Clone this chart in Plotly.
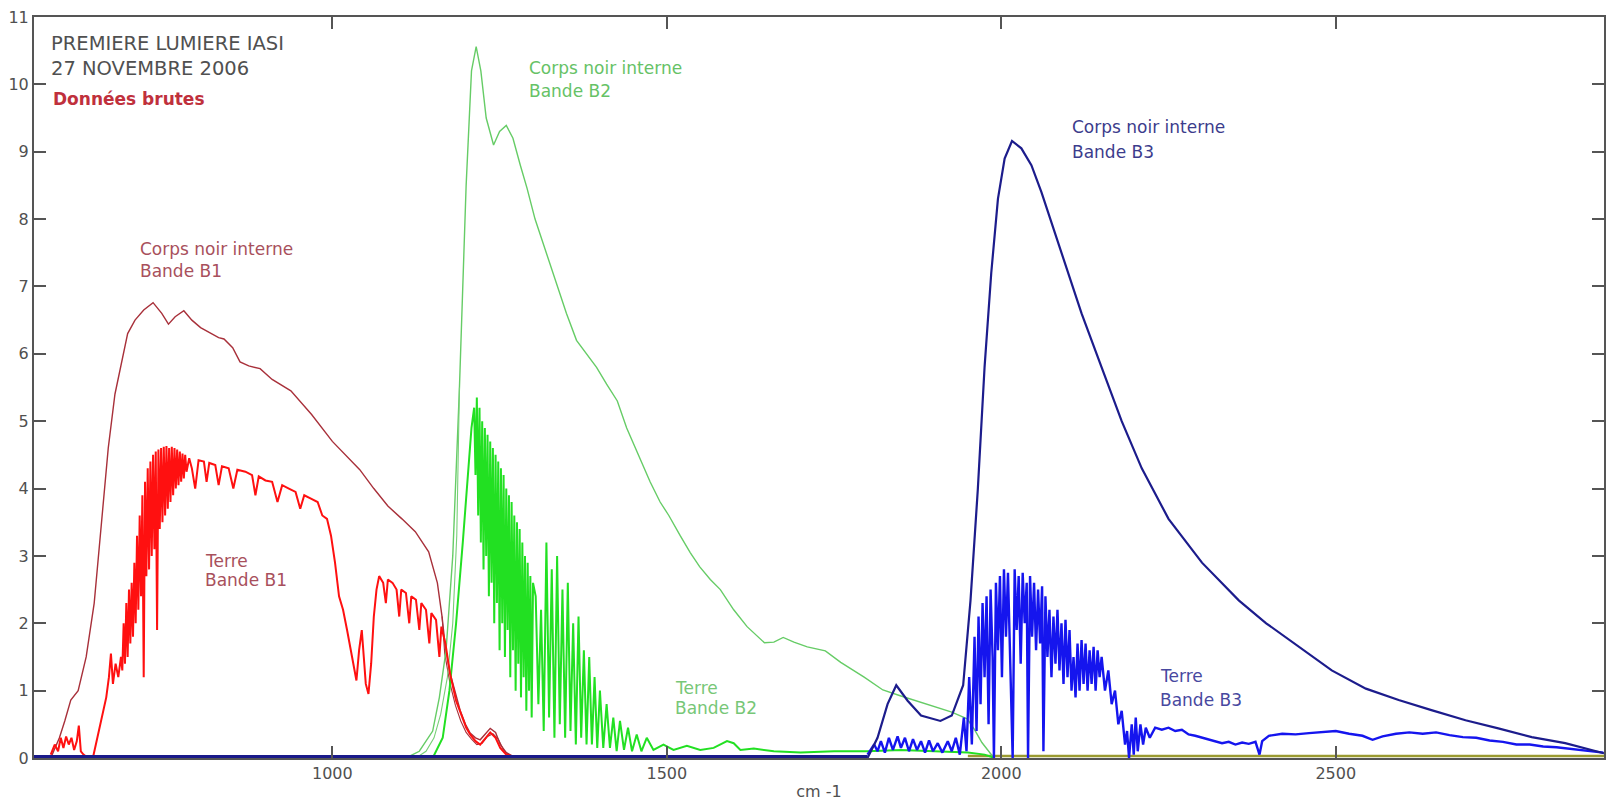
import plotly.graph_objects as go

# ---------------- data ----------------
# Corps noir interne, bande B1 (dark red, thin)
cn_b1_x = [579, 592, 600, 609, 620, 632, 644, 655, 665, 675, 685, 694, 705, 718, 732, 745, 755, 765, 778, 790,
           803, 818, 830, 838, 851, 862, 875, 892, 910, 938, 969, 1000, 1020, 1041, 1062, 1083, 1104, 1124, 1144,
           1157, 1164, 1169, 1176, 1184, 1191, 1199, 1206, 1214, 1221, 1228, 1236, 1244, 1251, 1260, 1275]
cn_b1_y = [0.0, 0.3, 0.55, 0.86, 1.0, 1.5, 2.3, 3.5, 4.6, 5.4, 5.9, 6.3, 6.5, 6.65, 6.76, 6.6, 6.44, 6.55, 6.64, 6.5,
           6.39, 6.3, 6.24, 6.22, 6.09, 5.88, 5.82, 5.78, 5.62, 5.45, 5.1, 4.7, 4.5, 4.28, 4.0, 3.74, 3.55, 3.36, 3.06,
           2.6, 2.1, 1.64, 1.26, 0.95, 0.71, 0.5, 0.37, 0.3, 0.27, 0.35, 0.44, 0.38, 0.2, 0.08, 0.0]
# second (parallel) black-body B1 trace visible on the falling edge
cn_b1b_x = [1164, 1168, 1176, 1184, 1192, 1200, 1208, 1216, 1224, 1232, 1240, 1248, 1256, 1266]
cn_b1b_y = [2.1, 1.55, 1.1, 0.78, 0.55, 0.38, 0.28, 0.2, 0.22, 0.32, 0.36, 0.28, 0.12, 0.02]

# Terre, bande B1 (bright red, noisy)
t_b1_x = [579, 585, 590, 594, 598, 602, 606, 610, 614, 618, 621, 624, 628, 635, 642, 650, 656, 662, 666, 669,
          672, 676, 680, 684,
          686, 688, 690, 692, 694, 696, 698, 700, 702, 704, 706, 708, 710, 712, 714, 716, 718, 720, 722, 724,
          726, 728, 730, 732, 734, 736, 738, 740, 742, 744, 746, 748, 750, 752, 754, 756, 758, 760, 762, 764,
          766, 768, 770, 772, 774, 776, 778, 780, 782,
          786, 790, 795, 800,
          808, 812, 816, 825, 830, 835, 845, 852, 858, 870, 880, 885, 890, 900, 910, 918, 925, 935, 945, 952,
          958, 968, 978, 985, 992, 998, 1004, 1010, 1016, 1022, 1028, 1033, 1036, 1040, 1044, 1047, 1050, 1054,
          1058, 1062, 1066, 1070, 1076, 1080, 1083, 1090, 1096, 1100, 1103, 1110, 1115, 1118, 1125, 1130, 1133,
          1140, 1145, 1148, 1155, 1160, 1163, 1169, 1176, 1185, 1191, 1200, 1206, 1214, 1221, 1228, 1236, 1244,
          1251, 1260, 1270]
t_b1_y = [0.05, 0.2, 0.1, 0.3, 0.15, 0.32, 0.2, 0.3, 0.12, 0.25, 0.48, 0.1, 0.05, 0.0, 0.0, 0.35, 0.6, 0.9, 1.2, 1.55,
          1.1, 1.4, 1.2, 1.5,
          1.3, 2.0, 1.4, 2.3, 1.5, 2.5, 1.7, 2.6, 1.8, 2.9, 2.0, 3.3, 2.2, 3.6, 2.4, 3.9, 1.2, 4.1, 2.7, 4.3,
          2.8, 4.4, 3.0, 4.5, 3.1, 4.55, 1.9, 4.58, 3.4, 4.6, 3.5, 4.62, 3.6, 4.63, 3.7, 4.6, 3.8, 4.62, 3.9, 4.6,
          4.0, 4.58, 4.05, 4.55, 4.1, 4.52, 4.15, 4.5, 4.25,
          4.45, 4.3, 4.0, 4.42,
          4.4, 4.1, 4.38, 4.35, 4.05, 4.33, 4.3, 4.0, 4.28, 4.25, 4.2, 3.9, 4.18, 4.12, 4.1, 3.8, 4.05, 4.0, 3.95, 3.7,
          3.9, 3.85, 3.8, 3.6, 3.55, 3.3, 2.9, 2.4, 2.2, 1.9, 1.6, 1.3, 1.15, 1.6, 1.9, 1.5, 1.1, 0.95,
          1.4, 2.1, 2.5, 2.7, 2.6, 2.3, 2.65, 2.6, 2.5, 2.1, 2.5, 2.45, 2.0, 2.4, 2.35, 1.9, 2.3,
          2.2, 1.7, 2.15, 2.05, 1.5, 1.95, 1.7, 1.25, 0.85, 0.7, 0.45, 0.35, 0.25, 0.2, 0.28, 0.38, 0.3,
          0.15, 0.05, 0.02]

# Corps noir interne, bande B2 (light green, thin)
cn_b2_x = [1110, 1130, 1150, 1160, 1170, 1180, 1190, 1200, 1208, 1215, 1222, 1230, 1241, 1250, 1260, 1270, 1281,
           1291, 1303, 1320, 1334, 1350, 1365, 1380, 1395, 1410, 1426, 1440, 1457, 1475, 1490, 1503, 1520, 1535,
           1549, 1565, 1580, 1600, 1620, 1646, 1660, 1674, 1690, 1710, 1737, 1760, 1795, 1823, 1850, 1887, 1926,
           1949, 1960, 1971, 1989]
cn_b2_y = [0.0, 0.1, 0.4, 0.9, 1.6, 3.0, 5.5, 8.5, 10.2, 10.56, 10.2, 9.5, 9.1, 9.3, 9.39, 9.2, 8.8,
           8.46, 8.0, 7.5, 7.1, 6.6, 6.2, 6.0, 5.8, 5.55, 5.3, 4.9, 4.5, 4.1, 3.8, 3.6, 3.3, 3.05,
           2.84, 2.65, 2.5, 2.2, 1.95, 1.71, 1.72, 1.79, 1.72, 1.65, 1.59, 1.42, 1.2, 1.01, 0.92, 0.8, 0.68,
           0.58, 0.42, 0.23, 0.0]
# second (parallel) black-body B2 trace visible on the rising edge, merging into the first
cn_b2b_x = [1125, 1140, 1152, 1162, 1172, 1180, 1186, 1190]
cn_b2b_y = [0.0, 0.1, 0.3, 0.65, 1.2, 2.0, 3.3, 5.5]

# Terre, bande B2 (bright green, noisy)
t_b2_x = [1150, 1165, 1175, 1185, 1195, 1203, 1208,
          1212, 1214, 1216, 1218, 1220, 1222, 1224, 1226, 1228, 1230, 1232, 1234, 1236, 1238, 1240, 1242, 1244,
          1246, 1248, 1250, 1252, 1254, 1256, 1258, 1260, 1262, 1264, 1266, 1268, 1270, 1272, 1274, 1276, 1278,
          1280, 1282, 1284, 1286, 1288, 1290, 1292, 1294, 1296, 1298, 1300,
          1304, 1308, 1312, 1316, 1320, 1324, 1328, 1332, 1336, 1340, 1344, 1348, 1352, 1356, 1360,
          1364, 1368, 1372, 1376, 1380, 1384, 1388, 1392, 1396, 1400, 1405, 1410, 1415, 1420, 1425, 1430, 1436,
          1442, 1448, 1455, 1462, 1470, 1480, 1495, 1510, 1530, 1550, 1570, 1590, 1600, 1610, 1630, 1660, 1700,
          1750, 1800, 1850, 1900, 1950, 1975, 1990]
t_b2_y = [0.0, 0.3, 1.0, 2.0, 3.2, 4.3, 4.9,
          5.2, 4.2, 5.35, 3.6, 5.2, 3.2, 5.0, 2.8, 4.9, 3.0, 4.8, 2.4, 4.7, 2.6, 4.6, 2.0, 4.5,
          2.3, 4.4, 1.6, 4.3, 2.0, 4.2, 1.5, 4.0, 1.9, 3.9, 1.2, 3.8, 1.6, 3.6, 1.0, 3.5, 1.4,
          3.4, 0.9, 3.2, 1.2, 3.0, 0.7, 2.9, 1.0, 2.7, 0.6, 2.6,
          2.4, 0.8, 2.2, 0.4, 3.2, 0.6, 2.8, 0.3, 3.0, 0.5, 2.5, 0.3, 2.6, 0.4, 2.0,
          0.2, 2.1, 0.3, 1.6, 0.2, 1.5, 0.2, 1.2, 0.15, 1.0, 0.15, 0.8, 0.15, 0.6, 0.1, 0.55, 0.12,
          0.45, 0.1, 0.35, 0.1, 0.3, 0.12, 0.2, 0.12, 0.18, 0.12, 0.15, 0.25, 0.22, 0.12, 0.14, 0.1, 0.08,
          0.1, 0.1, 0.12, 0.1, 0.08, 0.05, 0.0]

# Corps noir interne, bande B3 (navy, thin)
cn_b3_x = [1800, 1815, 1830, 1843, 1860, 1880, 1909, 1926, 1943, 1954, 1965, 1975, 1985, 1995, 2005, 2016, 2030,
           2045, 2060, 2080, 2100, 2120, 2150, 2180, 2210, 2250, 2300, 2355, 2396, 2445, 2494, 2545, 2594, 2643,
           2694, 2743, 2793, 2843, 2892, 2901]
cn_b3_y = [0.0, 0.3, 0.8, 1.08, 0.85, 0.63, 0.55, 0.63, 1.08, 2.34, 4.0, 5.8, 7.2, 8.3, 8.9, 9.16, 9.05,
           8.8, 8.4, 7.8, 7.2, 6.6, 5.8, 5.0, 4.3, 3.55, 2.9, 2.34, 2.0, 1.65, 1.3, 1.03, 0.86, 0.71,
           0.56, 0.44, 0.31, 0.22, 0.09, 0.07]

# Terre, bande B3 (bright blue, noisy)
t_b3_x = [1800, 1810, 1815, 1820, 1826, 1832, 1838, 1845, 1850, 1856, 1862, 1868, 1874, 1880, 1886, 1892, 1898,
          1905, 1912, 1920, 1926, 1932, 1938, 1944, 1948, 1952, 1956, 1960, 1963, 1966, 1969, 1972, 1975, 1978,
          1981, 1984, 1987, 1989, 1992, 1995, 1998, 2001, 2004, 2007, 2010, 2013, 2017, 2020, 2023, 2026, 2029,
          2032, 2035, 2038, 2040, 2043, 2046, 2049, 2052, 2055, 2058, 2061, 2063, 2066, 2069, 2072, 2075, 2078,
          2081, 2084, 2087, 2090, 2093, 2096, 2099, 2102, 2105, 2108, 2111, 2114, 2117, 2120, 2123, 2126, 2129,
          2132, 2135, 2138, 2141, 2144, 2147, 2150, 2155, 2160, 2165, 2170, 2175, 2180, 2185, 2188, 2191, 2195,
          2198, 2201, 2204, 2208, 2212, 2216, 2222, 2230, 2240, 2250, 2260, 2270, 2280, 2290, 2300, 2310, 2320,
          2330, 2340, 2350, 2360, 2370, 2380, 2386, 2390, 2400, 2420, 2440, 2460, 2480, 2500, 2520, 2540, 2555,
          2570, 2590, 2610, 2630, 2650, 2670, 2690, 2710, 2730, 2750, 2770, 2790, 2810, 2830, 2850, 2870, 2890,
          2900]
t_b3_y = [0.05, 0.2, 0.1, 0.25, 0.08, 0.3, 0.12, 0.32, 0.15, 0.3, 0.1, 0.28, 0.12, 0.25, 0.08, 0.26, 0.1,
          0.22, 0.08, 0.25, 0.1, 0.3, 0.05, 0.6, 0.1, 1.2, 0.2, 1.8, 0.4, 2.1, 0.8, 2.3, 1.2, 2.4,
          0.5, 2.5, 1.5, 0.0, 2.6, 1.6, 2.7, 1.2, 2.8, 1.8, 2.75, 1.5, 0.0, 2.8, 1.9, 2.7, 1.4,
          2.75, 2.0, 2.6, 0.0, 2.7, 1.8, 2.6, 1.6, 2.5, 1.7, 2.55, 0.1, 2.4, 1.5, 2.2, 1.2, 2.1,
          1.4, 2.2, 1.3, 2.0, 1.1, 2.05, 1.2, 1.9, 1.0, 1.5, 0.9, 1.7, 1.0, 1.75, 1.1, 1.7, 1.0,
          1.6, 1.1, 1.65, 1.0, 1.6, 1.2, 1.5, 1.0, 1.3, 0.8, 1.0, 0.5, 0.7, 0.2, 0.4, 0.0, 0.5,
          0.05, 0.6, 0.1, 0.5, 0.2, 0.45, 0.3, 0.45, 0.42, 0.45, 0.4, 0.42, 0.35, 0.33, 0.3, 0.28, 0.25,
          0.22, 0.24, 0.2, 0.23, 0.21, 0.24, 0.05, 0.25, 0.33, 0.36, 0.35, 0.37, 0.38, 0.4, 0.36, 0.33, 0.27,
          0.32, 0.36, 0.38, 0.36, 0.38, 0.34, 0.31, 0.3, 0.26, 0.24, 0.2, 0.2, 0.17, 0.16, 0.14, 0.12, 0.1,
          0.08]

# out-of-band baselines
base_navy_x = [554, 1800]
base_navy_y = [0.02, 0.02]
base_olive_x = [1950, 2901]
base_olive_y = [0.03, 0.03]

x_ticks = [1000, 1500, 2000, 2500]
y_ticks = list(range(0, 12))

# ---------------- figure ----------------
fig = go.Figure()

def line(x, y, color, width, name):
    fig.add_trace(go.Scatter(x=x, y=y, mode="lines", name=name,
                             line=dict(color=color, width=width), hoverinfo="skip"))

line(base_olive_x, base_olive_y, "#9a9a30", 2.5, "base B1/B2")
line(cn_b1_x, cn_b1_y, "#a8303a", 1.4, "Corps noir B1")
line(cn_b1b_x, cn_b1b_y, "#a8303a", 1.1, "Corps noir B1 (2)")
line(cn_b2_x, cn_b2_y, "#66cc66", 1.4, "Corps noir B2")
line(cn_b2b_x, cn_b2b_y, "#77d077", 1.1, "Corps noir B2 (2)")
line(t_b2_x, t_b2_y, "#22e022", 2.0, "Terre B2")
line(t_b1_x, t_b1_y, "#ff1010", 2.0, "Terre B1")
line(t_b3_x, t_b3_y, "#1515ee", 2.4, "Terre B3")
line(base_navy_x, base_navy_y, "#1a1a8a", 3.5, "base B3")
line(cn_b3_x, cn_b3_y, "#1c1c8c", 2.2, "Corps noir B3")

FONT = "DejaVu Sans, Arial, sans-serif"

def label(x, y, text, color, size=16, bold=False):
    t = f"<b>{text}</b>" if bold else text
    fig.add_annotation(x=x, y=y, xref="x", yref="y", text=t, showarrow=False,
                       xanchor="left", yanchor="middle",
                       font=dict(family=FONT, size=size, color=color))

label(576, 10.61, "PREMIERE LUMIERE IASI", "#505050", 19.5)
label(576, 10.24, "27 NOVEMBRE 2006", "#505050", 19.5)
label(580, 9.78, "Données brutes", "#c0303c", 17, bold=True)

label(709, 7.56, "Corps noir interne", "#a8505c", 17)
label(709, 7.23, "Bande B1", "#a8505c", 17)
label(806, 2.93, "Terre", "#a8505c", 17)
label(806, 2.64, "Bande B1", "#a8505c", 17)

label(1291, 10.24, "Corps noir interne", "#66c266", 17)
label(1291, 9.9, "Bande B2", "#66c266", 17)
label(1509, 1.04, "Terre", "#77c777", 17)
label(1509, 0.74, "Bande B2", "#77c777", 17)

label(2102, 9.36, "Corps noir interne", "#3c3c8c", 17)
label(2102, 9.0, "Bande B3", "#3c3c8c", 17)
label(2234, 1.21, "Terre", "#4848a0", 17)
label(2234, 0.86, "Bande B3", "#4848a0", 17)

axis_common = dict(showgrid=False, zeroline=False, showline=True, linecolor="#555555", linewidth=2,
                   mirror="ticks", ticks="inside", ticklen=12, tickwidth=1.5, tickcolor="#555555",
                   tickfont=dict(family=FONT, size=16, color="#505050"))

fig.update_xaxes(range=[554, 2901], tickvals=x_ticks, ticktext=[str(v) for v in x_ticks],
                 title=dict(text="cm -1", font=dict(family=FONT, size=16, color="#505050"), standoff=4),
                 **axis_common)
fig.update_yaxes(range=[0, 11], tickvals=y_ticks, ticktext=[str(v) for v in y_ticks], **axis_common)

fig.update_layout(width=1614, height=808, showlegend=False,
                  margin=dict(l=33, r=8, t=14, b=50),
                  paper_bgcolor="white", plot_bgcolor="white")

fig.write_html("out.html", config={"displayModeBar": False},
               post_script="document.body.style.margin='0';")
